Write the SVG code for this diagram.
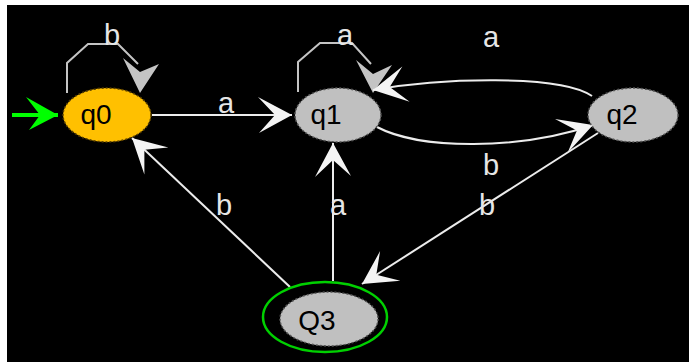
<svg xmlns="http://www.w3.org/2000/svg" width="689" height="362" viewBox="0 0 689 362">
  <style>
    .edge { fill: none; stroke: #ececec; stroke-width: 2; }
    .loop { fill: none; stroke: #c4c4c4; stroke-width: 2; }
    .lbl { font-family: "Liberation Sans", Arial, sans-serif; font-size: 29px; fill: #e6e6e6; text-anchor: middle; }
    .name { font-family: "Liberation Sans", Arial, sans-serif; font-size: 28px; fill: #000; text-anchor: middle; }
    .gray { fill: #c0c0c0; stroke: #555; stroke-width: 1.5; stroke-dasharray: 2 2; }
    .gharrow { fill: #c4c4c4; }
  </style>
  <defs>
    <marker id="arr" markerUnits="userSpaceOnUse" orient="auto" viewBox="-36 -20 40 40" refX="0" refY="0" markerWidth="40" markerHeight="40" overflow="visible">
      <path d="M0,0 L-34,-18 L-17,0 L-33,18 Z" fill="#f4f4f4"/>
    </marker>
    <marker id="garr" markerUnits="userSpaceOnUse" orient="auto" viewBox="-36 -20 40 40" refX="0" refY="0" markerWidth="40" markerHeight="40" overflow="visible">
      <path d="M0,0 L-32,-18 L-18,0 L-29,15 Z" fill="#00ff00"/>
    </marker>
  </defs>
  <rect x="0" y="0" width="689" height="362" fill="#ffffff"/>
  <rect x="7" y="5" width="682" height="357" fill="#000000"/>

  <g id="connectors">
    <!-- initial -->
    <line x1="12" y1="115" x2="58" y2="115" stroke="#00ff00" stroke-width="4" marker-end="url(#garr)"/>
    <!-- q0 self loop -->
    <polyline class="loop" points="67,93 67,63 88,44 118,44 138,64"/>
    <path class="gharrow" d="M140,93 L123,58 L140,72 L159,64 Z"/>
    <!-- q1 self loop -->
    <polyline class="loop" points="298,92 298,62 320,43 352,43 371,64"/>
    <path class="gharrow" d="M373,93 L356,60 L373,74 L392,65 Z"/>
    <!-- q0 -> q1 -->
    <line class="edge" x1="152" y1="115" x2="292" y2="115" marker-end="url(#arr)"/>
    <!-- q2 -> q1 -->
    <path class="edge" d="M592,96 C560,74 440,78 373,90" marker-end="url(#arr)"/>
    <!-- q1 -> q2 -->
    <path class="edge" d="M377,127 C420,150 520,150 593,125" marker-end="url(#arr)"/>
    <!-- Q3 -> q1 -->
    <line class="edge" x1="333" y1="281" x2="333" y2="143" marker-end="url(#arr)"/>
    <!-- Q3 -> q0 -->
    <line class="edge" x1="290" y1="287" x2="132" y2="138" marker-end="url(#arr)"/>
    <!-- q2 -> Q3 -->
    <line class="edge" x1="598" y1="133" x2="362" y2="284" marker-end="url(#arr)"/>

    <text class="lbl" x="112" y="45">b</text>
    <text class="lbl" x="226" y="113">a</text>
    <text class="lbl" x="345" y="45">a</text>
    <text class="lbl" x="491" y="47">a</text>
    <text class="lbl" x="491" y="175">b</text>
    <text class="lbl" x="224" y="215">b</text>
    <text class="lbl" x="338" y="215">a</text>
    <text class="lbl" x="487" y="215">b</text>
  </g>

  <g id="q0">
    <ellipse cx="107" cy="115" rx="44" ry="27" fill="#ffc000" stroke="#5a4000" stroke-width="1.5" stroke-dasharray="2 2"/>
    <text class="name" x="96" y="124">q0</text>
  </g>
  <g id="q1">
    <ellipse class="gray" cx="338" cy="115" rx="43" ry="27"/>
    <text class="name" x="326" y="124">q1</text>
  </g>
  <g id="q2">
    <ellipse class="gray" cx="633" cy="115" rx="45" ry="27"/>
    <text class="name" x="622" y="124">q2</text>
  </g>
  <g id="Q3">
    <ellipse cx="325" cy="317" rx="62" ry="35" fill="none" stroke="#00d000" stroke-width="2.5"/>
    <ellipse class="gray" cx="329" cy="319" rx="49" ry="27"/>
    <text class="name" x="317" y="330">Q3</text>
  </g>
</svg>
